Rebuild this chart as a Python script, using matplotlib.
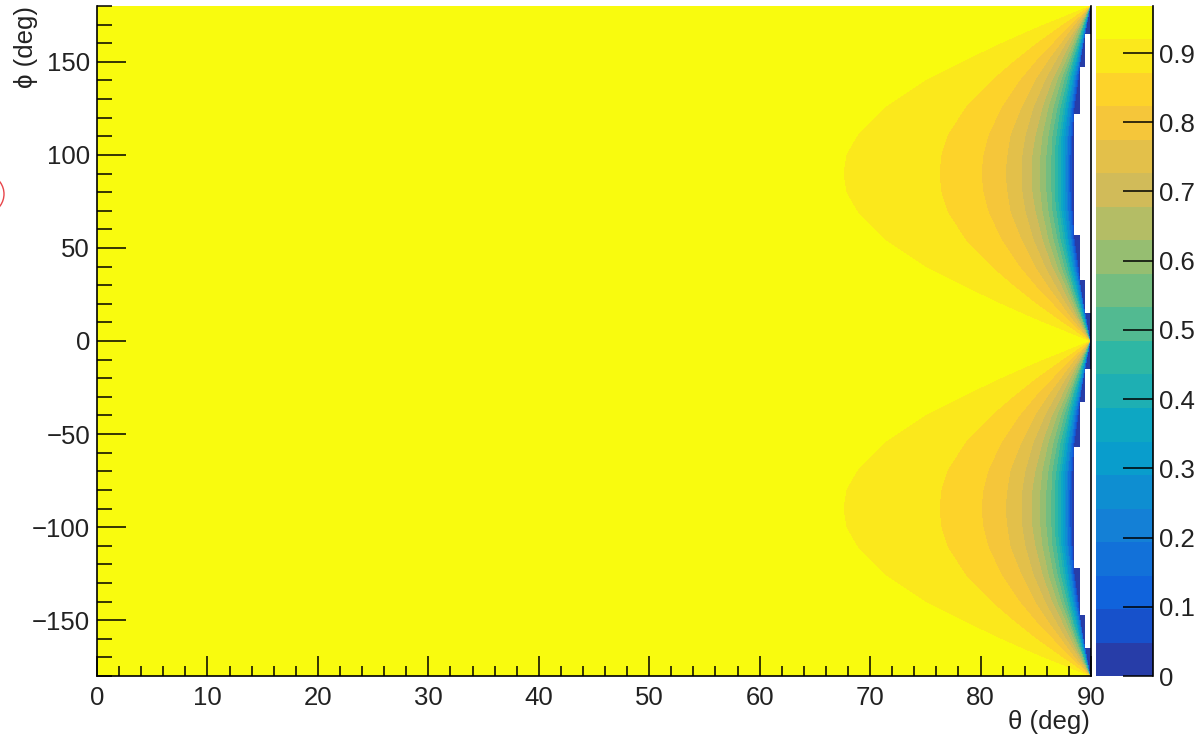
import numpy as np
import matplotlib
matplotlib.use("Agg")
import matplotlib.pyplot as plt
from matplotlib.colors import LinearSegmentedColormap, ListedColormap, BoundaryNorm
from matplotlib.patches import Arc
from matplotlib.ticker import MultipleLocator
from matplotlib.transforms import IdentityTransform

plt.rcParams['font.family'] = ['Liberation Sans', 'DejaVu Sans']

# ---------------- data ----------------
# colour (z) scale: 20 equal bands from 0 to the maximum
z_min, z_max = 0.0, 0.968
n_bands = 20
z_ticks = [0.0, 0.1, 0.2, 0.3, 0.4, 0.5, 0.6, 0.7, 0.8, 0.9]
z_tick_labels = ["0", "0.1", "0.2", "0.3", "0.4", "0.5", "0.6", "0.7", "0.8", "0.9"]

# phi rows (deg) of one quadrant; the map repeats mirror-wise about phi = 0 and +-90
phi_rows = [0, 6, 12, 20, 30, 40, 55, 70, 80, 90]
# theta (deg) where the value drops below each band boundary, from the
# highest boundary (0.920) down to the lowest (0.048), for each phi row
theta_cross = [
    [90.00, 90.00, 90.00, 90.00, 90.00, 90.00, 90.00, 90.00, 90.00, 90.00, 90.00, 90.00, 90.00, 90.00, 90.00, 90.00, 90.00, 90.00, 90.00],
    [87.54, 88.54, 88.96, 89.19, 89.34, 89.44, 89.52, 89.58, 89.62, 89.66, 89.69, 89.71, 89.73, 89.75, 89.77, 89.78, 89.79, 89.81, 89.82],
    [85.11, 87.10, 87.94, 88.40, 88.69, 88.89, 89.04, 89.16, 89.25, 89.32, 89.38, 89.43, 89.47, 89.51, 89.54, 89.57, 89.59, 89.61, 89.63],
    [81.99, 85.23, 86.61, 87.36, 87.85, 88.18, 88.42, 88.61, 88.76, 88.88, 88.98, 89.06, 89.13, 89.19, 89.24, 89.29, 89.33, 89.36, 89.40],
    [78.37, 83.05, 85.05, 86.15, 86.85, 87.34, 87.70, 87.97, 88.18, 88.36, 88.50, 88.62, 88.72, 88.81, 88.89, 88.96, 89.02, 89.07, 89.12],
    [75.18, 81.09, 83.64, 85.06, 85.96, 86.58, 87.04, 87.39, 87.67, 87.89, 88.07, 88.23, 88.36, 88.47, 88.57, 88.66, 88.74, 88.80, 88.87],
    [71.37, 78.70, 81.92, 83.71, 84.86, 85.65, 86.23, 86.68, 87.03, 87.31, 87.55, 87.74, 87.91, 88.05, 88.18, 88.29, 88.39, 88.48, 88.55],
    [68.86, 77.09, 80.75, 82.79, 84.10, 85.01, 85.68, 86.19, 86.59, 86.92, 87.19, 87.41, 87.60, 87.77, 87.91, 88.04, 88.15, 88.25, 88.34],
    [67.94, 76.49, 80.31, 82.45, 83.82, 84.78, 85.47, 86.01, 86.43, 86.77, 87.05, 87.29, 87.49, 87.66, 87.81, 87.95, 88.06, 88.17, 88.26],
    [67.63, 76.29, 80.17, 82.33, 83.73, 84.70, 85.40, 85.95, 86.37, 86.72, 87.01, 87.25, 87.45, 87.63, 87.78, 87.91, 88.03, 88.14, 88.24],
]

# empty (white) bins at the theta = 90 edge, upper half (mirrored for phi < 0)
empty_phi_lo = [15, 33, 57, 122, 147]
empty_phi_hi = [33, 57, 122, 147, 165]
empty_theta_from = [89.5, 89.0, 88.5, 89.0, 89.5]

theta_range = (0, 90)
phi_range = (-180, 180)

# ---------------- palette (ROOT kBird) ----------------
stops = [0.0, 0.125, 0.25, 0.375, 0.5, 0.625, 0.75, 0.875, 1.0]
red = [0.2082, 0.0592, 0.0780, 0.0232, 0.1802, 0.5301, 0.8186, 0.9956, 0.9764]
green = [0.1664, 0.3599, 0.5041, 0.6419, 0.7178, 0.7492, 0.7328, 0.7862, 0.9832]
blue = [0.5293, 0.8684, 0.8385, 0.7914, 0.6425, 0.4662, 0.3499, 0.1968, 0.0539]
bird = LinearSegmentedColormap.from_list(
    "bird", [(s, (r, g, b)) for s, r, g, b in zip(stops, red, green, blue)], N=255)
band_colors = [bird(min((b + 0.99) / n_bands, 1.0)) for b in range(n_bands)]
cmap = ListedColormap(band_colors)
levels = np.linspace(z_min, z_max, n_bands + 1)
norm = BoundaryNorm(levels, n_bands)
band_mid = 0.5 * (levels[:-1] + levels[1:])

# ---------------- build the band mesh ----------------
q_phi = np.array(phi_rows, float)
q_theta = np.array(theta_cross, float)
up_phi = np.concatenate([q_phi, 180.0 - q_phi[::-1][1:]])
up_theta = np.vstack([q_theta, q_theta[::-1][1:]])
all_phi = np.concatenate([-up_phi[::-1], up_phi[1:]])
all_theta = np.vstack([up_theta[::-1], up_theta[1:]])
M = len(all_phi)
X = np.hstack([np.full((M, 1), theta_range[0]), all_theta, np.full((M, 1), theta_range[1])])
Y = np.repeat(all_phi[:, None], X.shape[1], axis=1)
C = np.tile(band_mid[::-1], (M - 1, 1))

# ---------------- figure ----------------
W, H = 1200, 736
FS = 18.5
fig = plt.figure(figsize=(W / 100, H / 100), dpi=100)
ax = fig.add_axes([97 / W, 1 - 676 / H, (1091 - 97) / W, (676 - 6) / H])
cax = fig.add_axes([1096 / W, 1 - 676 / H, (1153 - 1096) / W, (676 - 6) / H])

ax.pcolormesh(X, Y, C, cmap=cmap, norm=norm, shading='flat', antialiased=False)

e_lo = np.array(empty_phi_lo, float)
e_hi = np.array(empty_phi_hi, float)
e_th = np.array(empty_theta_from, float)
for sign in (1, -1):
    ax.barh(sign * 0.5 * (e_lo + e_hi), theta_range[1] - e_th, left=e_th,
            height=e_hi - e_lo, color='white', linewidth=0, zorder=2)

ax.set_xlim(*theta_range)
ax.set_ylim(*phi_range)
ax.xaxis.set_major_locator(MultipleLocator(10))
ax.xaxis.set_minor_locator(MultipleLocator(2))
ax.yaxis.set_major_locator(MultipleLocator(50))
ax.yaxis.set_minor_locator(MultipleLocator(10))
ax.tick_params(axis='both', which='both', direction='in', labelsize=FS, width=1.1, colors='black')
ax.tick_params(axis='x', which='major', length=14.5, pad=7)
ax.tick_params(axis='x', which='minor', length=7.2)
ax.tick_params(axis='y', which='major', length=21, pad=5)
ax.tick_params(axis='y', which='minor', length=10.8)
ax.spines['top'].set_visible(False)
for s in ('left', 'bottom', 'right'):
    ax.spines[s].set_linewidth(1.2)
for lab in ax.get_xticklabels() + ax.get_yticklabels():
    lab.set_color('#222222')

fig.text(1090 / W, 1 - 729 / H, "θ (deg)", ha='right', va='baseline', fontsize=FS, color='#222222')
fig.text(26 / W, 1 - 6 / H, "ϕ (deg)", ha='center', va='top', rotation=90, fontsize=FS, color='#222222')

# colour bar
cax.pcolormesh([0, 1], levels, band_mid[:, None], cmap=cmap, norm=norm, shading='flat')
cax.set_xlim(0, 1)
cax.set_ylim(z_min, z_max)
cax.set_xticks([])
cax.yaxis.tick_right()
cax.set_yticks(z_ticks)
cax.set_yticklabels(z_tick_labels)
cax.tick_params(axis='y', direction='in', length=21.5, width=1.1, labelsize=FS, pad=4, labelcolor='#222222')
for s in ('left', 'top', 'bottom'):
    cax.spines[s].set_visible(False)
cax.spines['right'].set_linewidth(1.2)

# small red arc cut by the left border of the picture
fig.patches.append(Arc((-16, H - 194), 40, 40, theta1=-70, theta2=70,
                       transform=IdentityTransform(), color='#e8454a', lw=1.0))

fig.savefig("out.png", dpi=100)
